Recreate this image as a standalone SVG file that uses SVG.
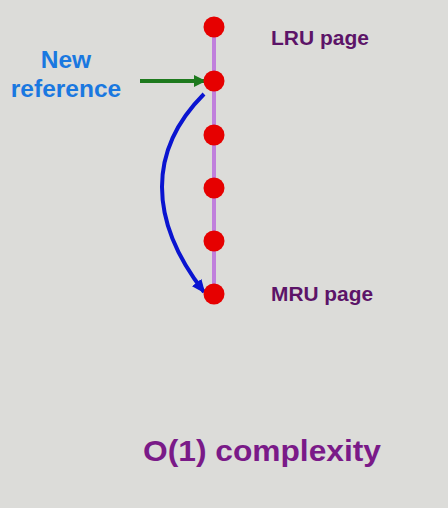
<svg xmlns="http://www.w3.org/2000/svg" width="448" height="508" viewBox="0 0 448 508">
<style>
.node{fill:#e60000}
.lbl{font-family:"Liberation Sans",Arial,sans-serif;font-weight:bold}
.page{font-size:20px;fill:#5c1468}
.newref{font-size:24.5px;fill:#1a78e0}
.title{font-size:30px;fill:#7a1a88}
</style>
<defs>
<marker id="ag" markerWidth="12" markerHeight="12" refX="10" refY="6" orient="auto" markerUnits="userSpaceOnUse" viewBox="0 0 12 12"><path d="M0,0 L12,6 L0,12 z" fill="#1e7a1e"/></marker>
<marker id="ab" markerWidth="14" markerHeight="12" refX="12" refY="6" orient="auto" markerUnits="userSpaceOnUse" viewBox="0 0 14 12"><path d="M0,0 L14,6 L0,12 z" fill="#0a14d0"/></marker>
</defs>
<rect width="448" height="508" fill="#dcdcd9"/>
<g id="connectors">
<line x1="214" y1="27" x2="214" y2="294" stroke="#c080dc" stroke-width="4"/>
<line x1="140" y1="81" x2="204" y2="81" stroke="#1e7a1e" stroke-width="4" marker-end="url(#ag)"/>
<path d="M204,94 C148,150 148,220 204,292" fill="none" stroke="#0a14d0" stroke-width="4" marker-end="url(#ab)"/>
</g>
<g id="n1"><circle class="node" cx="214" cy="27" r="10.5"/></g>
<g id="n2"><circle class="node" cx="214" cy="81" r="10.5"/></g>
<g id="n3"><circle class="node" cx="214" cy="135" r="10.5"/></g>
<g id="n4"><circle class="node" cx="214" cy="188" r="10.5"/></g>
<g id="n5"><circle class="node" cx="214" cy="241" r="10.5"/></g>
<g id="n6"><circle class="node" cx="214" cy="294" r="10.5"/></g>
<g id="labels">
<text class="lbl page" x="271" y="45" textLength="98" lengthAdjust="spacingAndGlyphs">LRU page</text>
<text class="lbl page" x="271" y="301" textLength="102" lengthAdjust="spacingAndGlyphs">MRU page</text>
<text class="lbl newref" x="66" y="68" text-anchor="middle">New</text>
<text class="lbl newref" x="66" y="97" text-anchor="middle">reference</text>
<text class="lbl title" x="143" y="461" textLength="238" lengthAdjust="spacingAndGlyphs">O(1) complexity</text>
</g>
</svg>
